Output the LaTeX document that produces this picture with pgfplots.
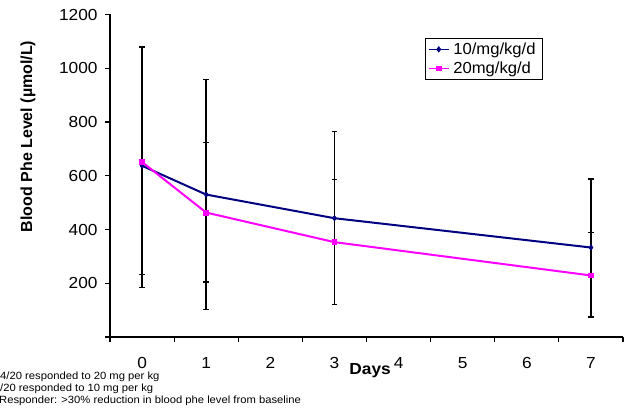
\documentclass[border=0pt]{standalone}
\usepackage{pgfplots}
\pgfplotsset{compat=1.18}
\usepackage{fontspec}
\setmainfont{Liberation Sans}
\definecolor{navyline}{RGB}{0,0,128}
\definecolor{magline}{RGB}{255,0,255}
\newcommand{\sx}[1]{\scalebox{1.08}[1]{#1}}
\begin{document}
\begin{tikzpicture}[x=1bp,y=1bp]
\path[use as bounding box] (0,0) rectangle (629,409);
\begin{axis}[
  at={(110bp,72bp)}, anchor=south west,
  scale only axis, width=513bp, height=322.5bp,
  xmin=-0.5, xmax=7.5, ymin=0, ymax=1200,
  axis x line*=bottom, axis y line*=left,
  axis line style={line width=1.5bp, black},
  xtick={0,...,7}, xticklabels={\sx{0},\sx{1},\sx{2},\sx{3},\sx{4},\sx{5},\sx{6},\sx{7}},
  major x tick style={draw=none},
  minor xtick={-0.5,0.5,...,7.5},
  ytick={0,200,...,1200}, yticklabels={,\sx{200},\sx{400},\sx{600},\sx{800},\sx{1000},\sx{1200}},
  tick align=outside, major tick length=5bp, minor tick length=5bp,
  tick style={black, line width=1.2bp},
  y tick style={black, line width=1.2bp},
  minor x tick style={black, line width=1.2bp},
  tick label style={font=\fontsize{16bp}{18bp}\selectfont},
  xticklabel style={anchor=north, inner sep=0pt, yshift=-15.6bp},
  yticklabel style={anchor=east, xshift=-4bp},
  /pgf/number format/assume math mode=true,
  xlabel={\sx{\bfseries Days}},
  xlabel style={at={(axis description cs:0.507,-0.104)}, anchor=center, font=\fontsize{16bp}{18bp}\selectfont},
  ylabel={\bfseries Blood Phe Level (µmol/L)},
  ylabel style={at={(axis description cs:-0.16,0.622)}, anchor=center, font=\fontsize{16bp}{18bp}\selectfont},
  legend style={at={(axis description cs:0.614,0.9256)}, anchor=north west, draw=black, line width=0.6bp,
    font=\fontsize{16bp}{18bp}\selectfont, inner xsep=3bp, inner ysep=2.5bp, row sep=3bp,
    nodes={inner xsep=4bp, inner ysep=1.5bp}},
  legend image code/.code={\draw[mark repeat=2,mark phase=2] plot coordinates {(0bp,0bp) (10bp,0bp) (20bp,0bp)};},
  legend image post style={line width=1bp},
  legend cell align=left,
  clip=false,
]
\addplot[navyline, line width=2bp, mark=diamond*, mark size=2.6bp, mark options={line width=0.8bp},
  error bars/.cd, y dir=both, y explicit,
  error bar style={black, line width=1.5bp},
  error mark options={black, rotate=90, mark size=2.8bp, line width=1.3bp}]
  coordinates {
  (0,637) += (0,440) -= (0,453)
  (1,530) += (0,428) -= (0,428)
  (3,442) += (0,322) -= (0,322)
  (7,333) += (0,255) -= (0,258)
  };
\addlegendentry{\scalebox{1.04}[1]{10/mg/kg/d}}
\addplot[magline, line width=2bp, mark=square*, mark size=2.4bp, mark options={line width=0.8bp},
  error bars/.cd, y dir=both, y explicit,
  error bar style={black, line width=1.5bp},
  error mark options={black, rotate=90, mark size=2.8bp, line width=1.3bp}]
  coordinates {
  (0,651) += (0,428) -= (0,419)
  (1,463) += (0,260) -= (0,258)
  (3,353) += (0,233) -= (0,233)
  (7,229) += (0,161) -= (0,155)
  };
\addlegendentry{\scalebox{1.04}[1]{20mg/kg/d}}
\end{axis}
\begin{scope}[every node/.style={anchor=west, inner sep=0, font=\fontsize{10.5bp}{12bp}\selectfont}]
\node at (0,32.5) {\scalebox{1.07}[1]{4/20 responded to 20 mg per kg}};
\node at (0,20.5) {\scalebox{1.07}[1]{/20 responded to 10 mg per kg}};
\node at (-1,8) {\scalebox{1.07}[1]{Responder: >30\% reduction in blood phe level from baseline}};
\end{scope}
\end{tikzpicture}
\end{document}
